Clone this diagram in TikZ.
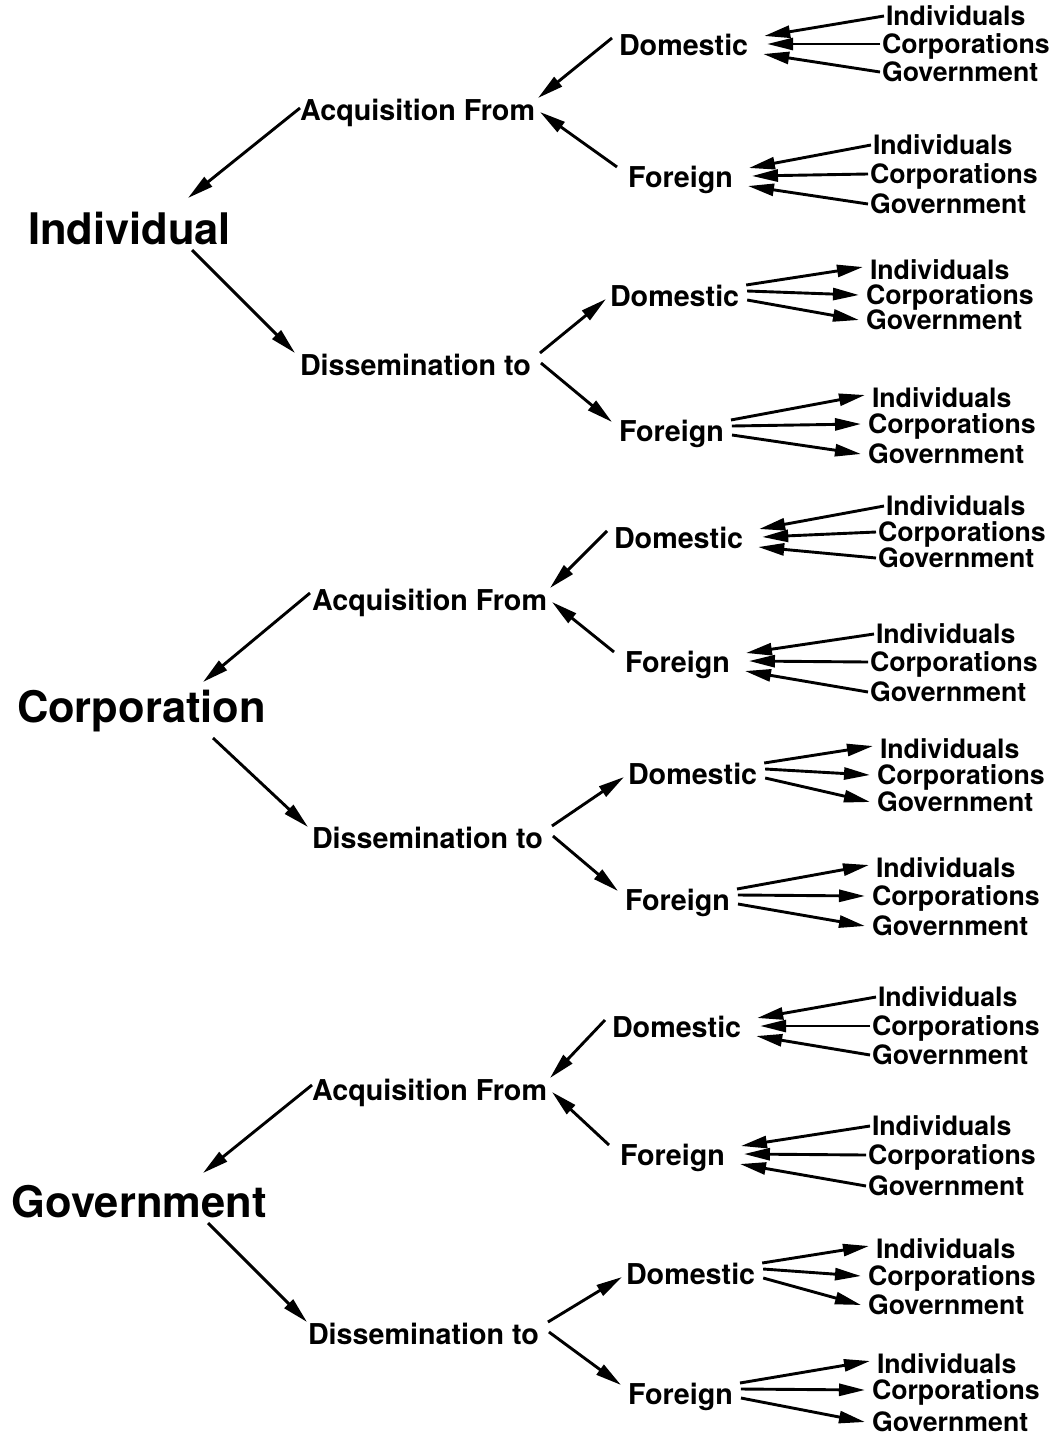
\documentclass[tikz,border=0pt]{standalone}
\usepackage{fontspec}
\setmainfont{TeX Gyre Heros}
\usetikzlibrary{arrows.meta,calc}

\tikzset{
  every node/.style={inner sep=0pt, outer sep=0pt, anchor=west, text depth=0pt},
  rootlbl/.style={font=\fontsize{43.5}{46}\selectfont\bfseries, text height=31pt},
  midlbl/.style={font=\fontsize{28.7}{30}\selectfont\bfseries, text height=20.5pt},
  leaflbl/.style={font=\fontsize{26.7}{28}\selectfont\bfseries, text height=19pt},
  arr/.style={line width=2.9pt, -{Triangle[length=26pt,width=12pt]}},
}

% source cluster: three leaves feeding into one label
% #1 id, #2 label, #3 x, #4 y, #5 x of Individuals, #6 x of the other leaves,
% #7 #8 #9 y of the three leaves
\newcommand\srccluster[9]{%
  \node[midlbl] (#1) at (#3,-#4) {#2};
  \node[leaflbl] (#1i) at (#5,-#7) {Individuals};
  \node[leaflbl] (#1c) at (#6,-#8) {Corporations};
  \node[leaflbl] (#1g) at (#6,-#9) {Government};
  \draw[arr] ($(#1i.west)+(-2,0)$) -- ($(#1.east)+(16,9)$);
  \draw[arr] ($(#1c.west)+(-2,0)$) -- ($(#1.east)+(19,1)$);
  \draw[arr] ($(#1g.west)+(-2,0)$) -- ($(#1.east)+(15,-9)$);
}

% target cluster: one label fanning out to three leaves
\newcommand\tgtcluster[9]{%
  \node[midlbl] (#1) at (#3,-#4) {#2};
  \node[leaflbl] (#1i) at (#5,-#7) {Individuals};
  \node[leaflbl] (#1c) at (#6,-#8) {Corporations};
  \node[leaflbl] (#1g) at (#6,-#9) {Government};
  \draw[arr] ($(#1.east)+(7,11)$) -- ($(#1i.west)+(-7,3)$);
  \draw[arr] ($(#1.east)+(8,5)$) -- ($(#1c.west)+(-7,0)$);
  \draw[arr] ($(#1.east)+(8,-4)$) -- ($(#1g.west)+(-7,0)$);
}

\begin{document}
\begin{tikzpicture}[x=1pt,y=1pt]
\useasboundingbox[fill=white] (0,0) rectangle (1063,-1437);

% ---------- Individual ----------
\node[rootlbl] (r1) at (28,-229) {Individual};
\node[midlbl] (a1) at (300,-110) {Acquisition From};
\node[midlbl] (s1) at (300,-365) {Dissemination to};
\srccluster{ad1}{Domestic}{619}{45}{886}{882}{16}{44}{72}
\srccluster{af1}{Foreign}{628}{177}{873}{870}{145}{174}{204}
\tgtcluster{sd1}{Domestic}{610}{296}{870}{866}{270}{295}{320}
\tgtcluster{sf1}{Foreign}{619}{431}{872}{868}{398}{424}{454}
\draw[arr] ($(a1.west)+(0,2)$) -- ($(r1.west)+(160,31)$);
\draw[arr] ($(r1.west)+(164,-21)$) -- ($(s1.west)+(-5,12)$);
\draw[arr] ($(ad1.west)+(-7,7)$) -- ($(a1.east)+(3,12)$);
\draw[arr] ($(af1.west)+(-11,10)$) -- ($(a1.east)+(5,-2)$);
\draw[arr] ($(s1.east)+(9,12)$) -- ($(sd1.west)+(-4,-3)$);
\draw[arr] ($(s1.east)+(10,2)$) -- ($(sf1.west)+(-7,9)$);

% ---------- Corporation ----------
\node[rootlbl] (r2) at (17,-707) {Corporation};
\node[midlbl] (a2) at (312,-600) {Acquisition From};
\node[midlbl] (s2) at (312,-838) {Dissemination to};
\srccluster{ad2}{Domestic}{614}{538}{886}{878}{506}{532}{558}
\srccluster{af2}{Foreign}{625}{662}{876}{870}{634}{662}{692}
\tgtcluster{sd2}{Domestic}{628}{774}{880}{877}{749}{775}{802}
\tgtcluster{sf2}{Foreign}{625}{900}{876}{872}{868}{896}{926}
\draw[arr] ($(a2.west)+(-2,7)$) -- ($(r2.west)+(186,25)$);
\draw[arr] ($(r2.west)+(196,-31)$) -- ($(s2.west)+(-4,11)$);
\draw[arr] ($(ad2.west)+(-7,7)$) -- ($(a2.east)+(3,12)$);
\draw[arr] ($(af2.west)+(-11,10)$) -- ($(a2.east)+(5,-2)$);
\draw[arr] ($(s2.east)+(9,12)$) -- ($(sd2.west)+(-4,-3)$);
\draw[arr] ($(s2.east)+(10,2)$) -- ($(sf2.west)+(-7,9)$);

% ---------- Government ----------
\node[rootlbl] (r3) at (12,-1202) {Government};
\node[midlbl] (a3) at (312,-1090) {Acquisition From};
\node[midlbl] (s3) at (308,-1334) {Dissemination to};
\srccluster{ad3}{Domestic}{612}{1027}{878}{872}{997}{1026}{1055}
\srccluster{af3}{Foreign}{620}{1155}{872}{868}{1126}{1155}{1186}
\tgtcluster{sd3}{Domestic}{626}{1274}{876}{868}{1249}{1276}{1305}
\tgtcluster{sf3}{Foreign}{628}{1394}{877}{872}{1364}{1390}{1422}
\draw[arr] ($(a3.west)+(0,5)$) -- ($(r3.west)+(191,29)$);
\draw[arr] ($(r3.west)+(196,-21)$) -- ($(s3.west)+(-1,12)$);
\draw[arr] ($(ad3.west)+(-7,7)$) -- ($(a3.east)+(3,12)$);
\draw[arr] ($(af3.west)+(-11,10)$) -- ($(a3.east)+(5,-2)$);
\draw[arr] ($(s3.east)+(9,12)$) -- ($(sd3.west)+(-4,-3)$);
\draw[arr] ($(s3.east)+(10,2)$) -- ($(sf3.west)+(-7,9)$);
\end{tikzpicture}
\end{document}
